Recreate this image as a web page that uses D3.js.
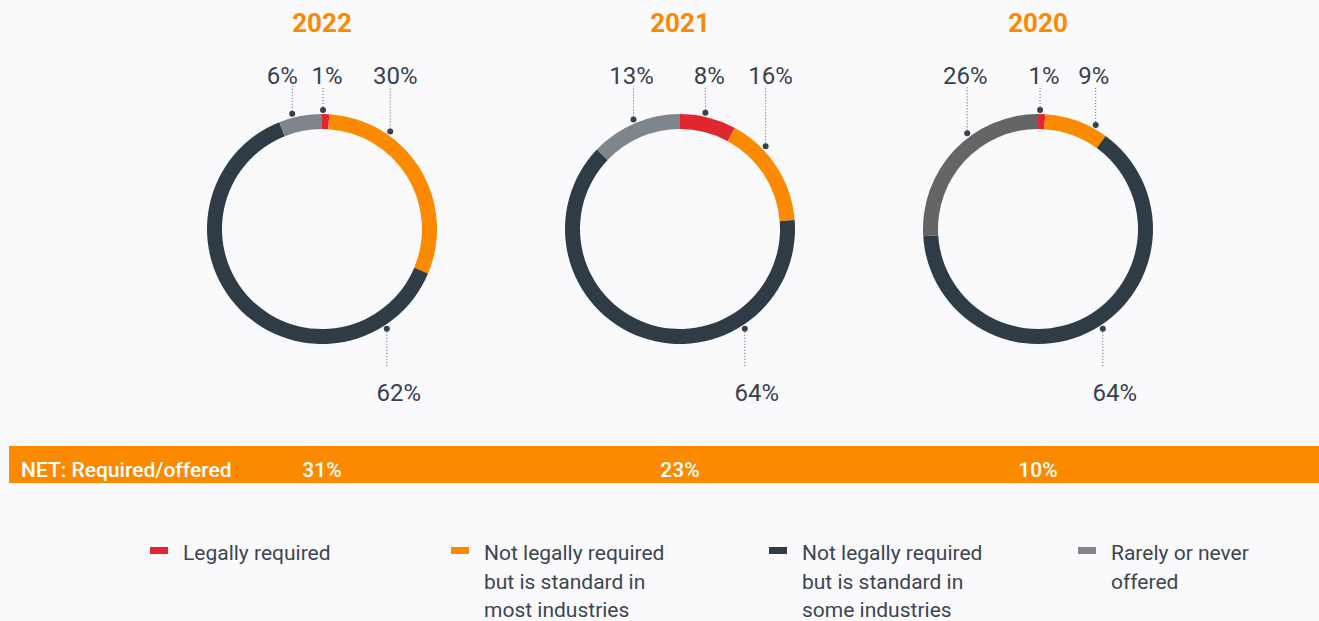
<!DOCTYPE html>
<html>
<head>
<meta charset="utf-8">
<script src="https://cdn.jsdelivr.net/npm/d3@7"></script>
<style>
    body { margin: 0; background: #faf9fb; }
    svg { display: block; font-family: Roboto, "Open Sans", sans-serif; }
</style>
</head>
<body>
<div id="chart"></div>
<script>
const years = ["2022", "2021", "2020"];
const categories = ["Legally required", "Not legally required but is standard in most industries", "Not legally required but is standard in some industries", "Rarely or never offered"];
const legendLines = [
    ["Legally required"],
    ["Not legally required", "but is standard in", "most industries"],
    ["Not legally required", "but is standard in", "some industries"],
    ["Rarely or never", "offered"]
];
const values2022 = [1, 30, 62, 6];
const values2021 = [8, 16, 64, 13];
const values2020 = [1, 9, 64, 26];
const netLabel = "NET: Required/offered";
const netValues = [31, 23, 10];

const colors = ["#e0262f", "#fb8a00", "#2f3b45", "#7e858c"];
const grayByYear = ["#7e858c", "#7e858c", "#656466"];
const textColor = "#37424d";

// hand placed label dots (degrees from 12 o'clock) and text nudges, like the original
const labelAngles = [[0.5, 35, 147, -14.5], [12.3, 46, 147, -23], [1, 29, 147, -36.5]];
const labelShift = [[4, 5, 12, -10], [4, 5, 12, -2], [4, -2, 12, -2]];
const legendX = [150, 451, 769, 1078];

function drawChart() {
    const width = 1319;
    const height = 621;
    const cy = 229;
    const outerR = 115;
    const innerR = 100;
    const dotR = 119;

    const svg = d3.select("#chart")
        .append("svg")
        .attr("width", width)
        .attr("height", height);

    const x = d3.scalePoint()
        .domain(years)
        .range([322, 1038]);

    const pie = d3.pie().sort(null).value(d => d);
    const arc = d3.arc().innerRadius(innerR).outerRadius(outerR);
    const allValues = [values2022, values2021, values2020];

    years.forEach((year, i) => {
        const cx = x(year);
        const g = svg.append("g")
            .attr("transform", "translate(" + cx + "," + cy + ")");

        // year title
        svg.append("text")
            .attr("x", cx)
            .attr("y", 32)
            .attr("text-anchor", "middle")
            .attr("fill", "#fb8a00")
            .attr("font-size", 26)
            .attr("font-weight", 700)
            .text(year);

        g.selectAll(".slice")
            .data(pie(allValues[i]))
            .enter()
            .append("path")
            .attr("class", "slice")
            .attr("d", arc)
            .attr("fill", (d, j) => j === 3 ? grayByYear[i] : colors[j]);

        // labels with dotted leaders
        allValues[i].forEach((v, j) => {
            const a = labelAngles[i][j] * Math.PI / 180;
            const dx = dotR * Math.sin(a);
            const dy = -dotR * Math.cos(a);
            const below = dy > 0;
            const lineEnd = below ? 367 - cy : 86 - cy;

            g.append("line")
                .attr("x1", dx)
                .attr("x2", dx)
                .attr("y1", dy)
                .attr("y2", lineEnd)
                .attr("stroke", "#555d66")
                .attr("stroke-width", 1)
                .attr("stroke-dasharray", "1,2");

            g.append("circle")
                .attr("cx", dx)
                .attr("cy", dy)
                .attr("r", 3)
                .attr("fill", textColor);

            g.append("text")
                .attr("x", dx + labelShift[i][j])
                .attr("y", below ? 401 - cy : 84 - cy)
                .attr("text-anchor", "middle")
                .attr("fill", textColor)
                .attr("font-size", 24)
                .text(v + "%");
        });
    });

    // NET bar
    svg.append("rect")
        .attr("x", 9)
        .attr("y", 446)
        .attr("width", width - 9)
        .attr("height", 37)
        .attr("fill", "#fb8a00");

    svg.append("text")
        .attr("x", 21)
        .attr("y", 477)
        .attr("fill", "#fff")
        .attr("font-size", 21)
        .attr("font-weight", 500)
        .text(netLabel);

    svg.selectAll(".net")
        .data(netValues)
        .enter()
        .append("text")
        .attr("class", "net")
        .attr("x", (d, i) => x(years[i]))
        .attr("y", 477)
        .attr("text-anchor", "middle")
        .attr("fill", "#fff")
        .attr("font-size", 21)
        .attr("font-weight", 500)
        .text(d => d + "%");

    // legend
    const legend = svg.selectAll(".legend-item")
        .data(categories)
        .enter().append("g")
        .attr("class", "legend-item")
        .attr("transform", (d, i) => "translate(" + legendX[i] + ",0)");

    legend.append("rect")
        .attr("x", 0)
        .attr("y", 547)
        .attr("width", 18)
        .attr("height", 7)
        .attr("fill", (d, i) => colors[i]);

    legend.append("text")
        .attr("fill", "#3c4650")
        .attr("font-size", 21)
        .selectAll("tspan")
        .data((d, i) => legendLines[i])
        .enter().append("tspan")
        .attr("x", 33)
        .attr("y", (d, k) => 560 + k * 28.5)
        .text(d => d);
}

drawChart();
</script>
</body>
</html>
